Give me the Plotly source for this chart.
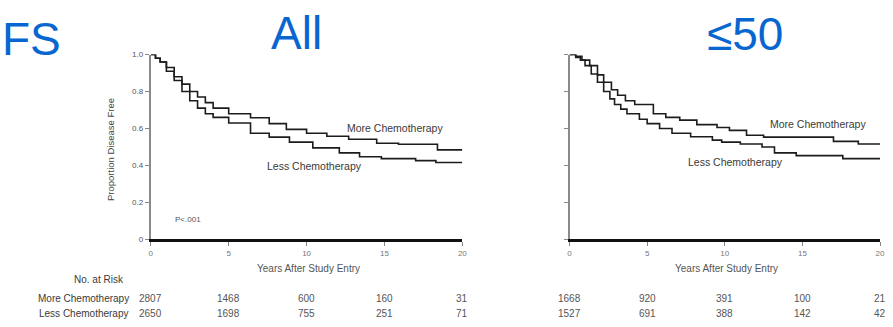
import plotly.graph_objects as go

# Kaplan-Meier step estimates, read per panel
all_more_t = [0, 0.3, 0.6, 1.0, 1.5, 2.0, 2.5, 3.0, 3.5, 4.0, 5.0, 6.4, 7.6, 8.7, 10.0, 11.3, 12.7, 14.5, 15.9, 18.4, 20]
all_more_s = [1.0, 0.98, 0.96, 0.93, 0.88, 0.84, 0.80, 0.77, 0.74, 0.71, 0.68, 0.658, 0.626, 0.595, 0.574, 0.558, 0.542, 0.52, 0.515, 0.484, 0.484]

all_less_t = [0, 0.3, 0.6, 1.0, 1.5, 2.0, 2.5, 3.0, 3.5, 4.0, 5.0, 6.4, 7.6, 8.9, 10.4, 12.1, 13.4, 14.8, 17.0, 18.3, 20]
all_less_s = [1.0, 0.98, 0.96, 0.91, 0.86, 0.80, 0.75, 0.71, 0.68, 0.66, 0.63, 0.574, 0.553, 0.526, 0.495, 0.468, 0.447, 0.437, 0.426, 0.416, 0.416]

y50_more_t = [0, 0.4, 0.8, 1.3, 1.8, 2.2, 2.7, 3.1, 3.6, 4.2, 5.4, 6.2, 7.1, 8.2, 9.5, 10.3, 11.4, 12.5, 17.0, 18.6, 20]
y50_more_s = [1.0, 0.99, 0.97, 0.94, 0.89, 0.85, 0.81, 0.78, 0.75, 0.73, 0.68, 0.66, 0.645, 0.621, 0.605, 0.59, 0.563, 0.553, 0.53, 0.516, 0.516]

y50_less_t = [0, 0.4, 0.7, 1.0, 1.4, 1.8, 2.2, 2.6, 2.9, 3.3, 3.7, 4.5, 5.0, 5.8, 6.6, 7.8, 9.2, 9.8, 11.0, 12.4, 13.2, 14.6, 17.6, 20]
y50_less_s = [1.0, 0.985, 0.97, 0.94, 0.895, 0.85, 0.80, 0.76, 0.73, 0.705, 0.68, 0.65, 0.626, 0.60, 0.574, 0.555, 0.537, 0.526, 0.516, 0.50, 0.468, 0.453, 0.437, 0.437]

risk_times = [0, 5, 10, 15, 20]
all_more_risk = [2807, 1468, 600, 160, 31]
all_less_risk = [2650, 1698, 755, 251, 71]
y50_more_risk = [1668, 920, 391, 100, 21]
y50_less_risk = [1527, 691, 388, 142, 42]

y_ticks = [0, 0.2, 0.4, 0.6, 0.8, 1.0]
y_tick_text = ["0", "0.2", "0.4", "0.6", "0.8", "1.0"]
x_ticks = [0, 5, 10, 15, 20]

W, H = 893, 327
FONT = "Arial, Liberation Sans, sans-serif"
BLUE = "#0866D0"
TXT = "#3a3a3a"
LINE = "#1c1c1c"

fig = go.Figure()
for t, s, xa, ya in [
    (all_more_t, all_more_s, "x", "y"),
    (all_less_t, all_less_s, "x", "y"),
    (y50_more_t, y50_more_s, "x2", "y2"),
    (y50_less_t, y50_less_s, "x2", "y2"),
]:
    fig.add_trace(go.Scatter(x=t, y=s, mode="lines", line=dict(shape="hv", color=LINE, width=1.6),
                             xaxis=xa, yaxis=ya, showlegend=False, hoverinfo="skip"))

def px_x(p):
    return p / W

def px_y(p):
    return 1 - p / H

x_dom_left = [px_x(150), px_x(464)]
x_dom_right = [px_x(572), px_x(885)]
y_dom = [px_y(242), px_y(52)]

xcommon = dict(range=[0, 20], tickvals=x_ticks, ticks="outside", ticklen=4, tickcolor="#888",
               showline=True, linecolor="#111", linewidth=3, showgrid=False, zeroline=False,
               tickfont=dict(size=8, color="#777", family=FONT))
ycommon = dict(range=[0, 1], tickvals=y_ticks, ticks="outside", ticklen=4, tickcolor="#888",
               showline=True, linecolor="#8a8a8a", linewidth=2, showgrid=False, zeroline=False,
               tickfont=dict(size=8, color="#555", family=FONT))

fig.update_layout(
    width=W, height=H, margin=dict(l=0, r=0, t=0, b=0),
    paper_bgcolor="white", plot_bgcolor="white",
    xaxis=dict(domain=x_dom_left, anchor="y", **xcommon),
    yaxis=dict(domain=y_dom, anchor="x", ticktext=y_tick_text, **ycommon),
    xaxis2=dict(domain=x_dom_right, anchor="y2", **xcommon),
    yaxis2=dict(domain=y_dom, anchor="x2", showticklabels=False, **ycommon),
)

ann = []

def text(x, y, s, size, color=TXT, xanchor="center", xref="paper", yref="paper", **kw):
    ann.append(dict(x=x, y=y, xref=xref, yref=yref, text=s, showarrow=False, xanchor=xanchor,
                    yanchor="middle", font=dict(size=size, color=color, family=FONT), **kw))

# Panel titles
text(px_x(-2), px_y(36), "FS", 46, BLUE, xanchor="left")
text(px_x(297), px_y(30), "All", 46, BLUE)
text(px_x(749), px_y(31), "≤50", 46, BLUE)

# Axis titles
text(px_x(110), px_y(150), "Proportion Disease Free", 9.5, "#444", textangle=-90)
text(px_x(309), px_y(272), "Years After Study Entry", 10, "#555")
text(px_x(730), px_y(272), "Years After Study Entry", 10, "#555")

# Curve labels
text(15.7, 0.60, "More Chemotherapy", 10.5, TXT, xref="x", yref="y")
text(10.5, 0.395, "Less Chemotherapy", 10.5, TXT, xref="x", yref="y")
text(16.0, 0.626, "More Chemotherapy", 10.5, TXT, xref="x2", yref="y2")
text(10.7, 0.416, "Less Chemotherapy", 10.5, TXT, xref="x2", yref="y2")
text(2.4, 0.105, "P<.001", 8, "#555", xref="x", yref="y")

# Numbers at risk
text(px_x(98), px_y(283), "No. at Risk", 10, TXT)
text(px_x(130), px_y(303), "More Chemotherapy", 10, TXT, xanchor="right")
text(px_x(130), px_y(318), "Less Chemotherapy", 10, TXT, xanchor="right")
for xa, more, less in [("x", all_more_risk, all_less_risk), ("x2", y50_more_risk, y50_less_risk)]:
    for t, m, l in zip(risk_times, more, less):
        text(t, px_y(303), str(m), 10, "#555", xref=xa)
        text(t, px_y(318), str(l), 10, "#555", xref=xa)

fig.update_layout(annotations=ann)
fig.write_html("out.html")
